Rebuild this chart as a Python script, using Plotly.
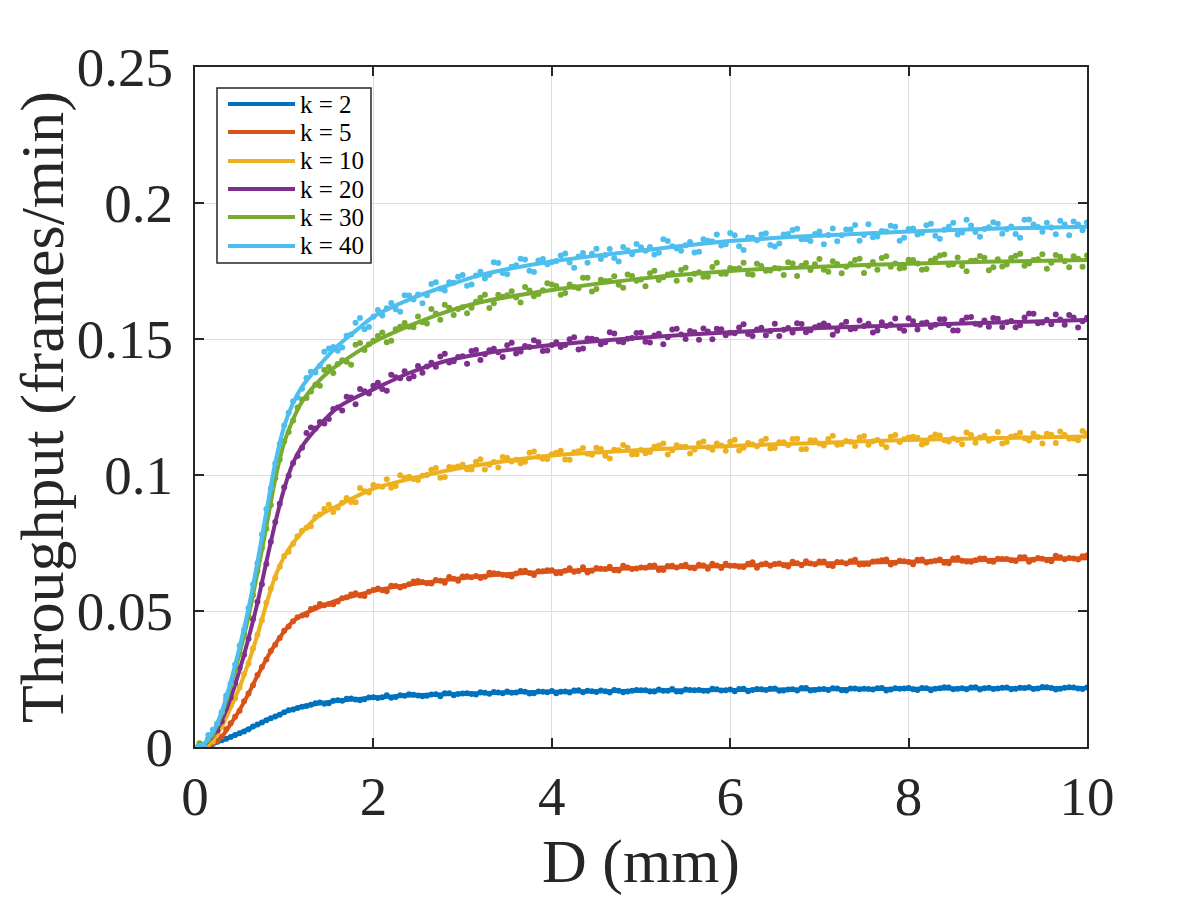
import numpy as np
import plotly.graph_objects as go

# ---------------- data ----------------
labels = ["k = 2", "k = 5", "k = 10", "k = 20", "k = 30", "k = 40"]
colors = ["#0072BD", "#D95319", "#EDB120", "#7E2F8E", "#77AC30", "#4DBEEE"]

# fitted curve sample points (D in mm)
fit_x = [0, 0.1, 0.2, 0.3, 0.4, 0.5, 0.6, 0.7, 0.8, 0.9, 1.0, 1.1, 1.2, 1.4, 1.6,
         1.8, 2.0, 2.4, 2.8, 3.2, 4, 5, 6, 7, 8, 9, 10]
fit_k2 = [0, 0.0004, 0.0012, 0.0024, 0.0037, 0.0051, 0.0066, 0.0082, 0.0098, 0.0113,
          0.0127, 0.0139, 0.0148, 0.0161, 0.0170, 0.0176, 0.0181, 0.0189, 0.0194,
          0.0198, 0.0203, 0.0207, 0.0210, 0.0212, 0.0214, 0.0216, 0.0217]
fit_k5 = [0, 0.0003, 0.0012, 0.0038, 0.0085, 0.0136, 0.0196, 0.0262, 0.0323, 0.0378,
          0.0425, 0.0462, 0.0485, 0.0515, 0.0540, 0.0557, 0.0574, 0.0597, 0.0613,
          0.0628, 0.0645, 0.0658, 0.0666, 0.0675, 0.0681, 0.0688, 0.0694]
fit_k10 = [0, 0.0005, 0.0025, 0.0075, 0.0145, 0.022, 0.031, 0.0412, 0.0525, 0.0628,
           0.0700, 0.0750, 0.0790, 0.0853, 0.0887, 0.0920, 0.0950, 0.0985, 0.1015,
           0.1038, 0.1072, 0.1092, 0.1107, 0.1118, 0.1129, 0.1136, 0.1142]
fit_k20 = [0, 0.0008, 0.004, 0.0098, 0.018, 0.0283, 0.040, 0.053, 0.068, 0.0825,
           0.095, 0.1045, 0.1105, 0.1185, 0.1248, 0.1285, 0.1315, 0.1375, 0.1418,
           0.1445, 0.1478, 0.1505, 0.1525, 0.1540, 0.1551, 0.1561, 0.1570]
fit_k30 = [0, 0.001, 0.005, 0.012, 0.0225, 0.0345, 0.048, 0.064, 0.081, 0.0985,
           0.112, 0.1205, 0.127, 0.135, 0.1405, 0.1448, 0.1488, 0.1548, 0.1598,
           0.1635, 0.1680, 0.1722, 0.1750, 0.1766, 0.1777, 0.1785, 0.1790]
fit_k40 = [0, 0.0012, 0.0055, 0.013, 0.024, 0.0368, 0.051, 0.068, 0.0865, 0.1045,
           0.118, 0.1265, 0.1325, 0.1405, 0.1475, 0.153, 0.1582, 0.1645, 0.1693,
           0.1735, 0.1785, 0.1825, 0.1860, 0.1880, 0.1895, 0.1906, 0.1913]

# measured points at D = 0.1, 0.2, ... 10.0 mm
meas_x = np.round(np.arange(1, 101) * 0.1, 2)
# measured points at D = 0.05, 0.15, ... 9.95 mm
mid_x = np.round(np.arange(0, 100) * 0.1 + 0.05, 2)

meas_k2 = [0.0004, 0.0011, 0.0025, 0.0037, 0.0051, 0.0065, 0.0083, 0.0098, 0.0112, 0.0128,
           0.0138, 0.0148, 0.0155, 0.0164, 0.0161, 0.0172, 0.0177, 0.0175, 0.0176, 0.0183,
           0.0183, 0.0181, 0.0190, 0.0194, 0.0189, 0.0188, 0.0194, 0.0198, 0.0190, 0.0197,
           0.0195, 0.0201, 0.0196, 0.0200, 0.0204, 0.0200, 0.0203, 0.0198, 0.0203, 0.0206,
           0.0203, 0.0200, 0.0209, 0.0207, 0.0202, 0.0205, 0.0210, 0.0201, 0.0207, 0.0209,
           0.0204, 0.0211, 0.0207, 0.0204, 0.0211, 0.0209, 0.0207, 0.0214, 0.0208, 0.0211,
           0.0213, 0.0205, 0.0213, 0.0210, 0.0215, 0.0208, 0.0212, 0.0217, 0.0208, 0.0212,
           0.0210, 0.0215, 0.0208, 0.0215, 0.0214, 0.0211, 0.0217, 0.0211, 0.0214, 0.0217,
           0.0210, 0.0216, 0.0214, 0.0220, 0.0212, 0.0216, 0.0219, 0.0211, 0.0218, 0.0215,
           0.0219, 0.0214, 0.0217, 0.0213, 0.0221, 0.0217, 0.0214, 0.0220, 0.0215, 0.0219]
mid_k2 = [0.0001, 0.0009, 0.0019, 0.0030, 0.0044, 0.0057, 0.0075, 0.0090, 0.0106, 0.0119,
          0.0135, 0.0143, 0.0151, 0.0161, 0.0159, 0.0170, 0.0170, 0.0178, 0.0172, 0.0182,
          0.0180, 0.0190, 0.0184, 0.0188, 0.0192, 0.0187, 0.0193, 0.0187, 0.0198, 0.0195,
          0.0198, 0.0193, 0.0199, 0.0202, 0.0198, 0.0199, 0.0206, 0.0197, 0.0204, 0.0201,
          0.0198, 0.0204, 0.0208, 0.0201, 0.0205, 0.0208, 0.0200, 0.0207, 0.0204, 0.0210,
          0.0209, 0.0204, 0.0207, 0.0213, 0.0204, 0.0210, 0.0210, 0.0207, 0.0212, 0.0209,
          0.0205, 0.0214, 0.0210, 0.0212, 0.0214, 0.0207, 0.0211, 0.0208, 0.0217, 0.0210,
          0.0213, 0.0216, 0.0209, 0.0215, 0.0212, 0.0213, 0.0216, 0.0208, 0.0216, 0.0215,
          0.0212, 0.0217, 0.0209, 0.0216, 0.0219, 0.0214, 0.0212, 0.0220, 0.0216, 0.0213,
          0.0218, 0.0212, 0.0218, 0.0220, 0.0215, 0.0220, 0.0211, 0.0218, 0.0219, 0.0213]
meas_k5 = [0.0001, 0.0013, 0.0038, 0.0087, 0.0133, 0.0197, 0.0265, 0.0322, 0.0376, 0.0427,
           0.0462, 0.0483, 0.0507, 0.0526, 0.0526, 0.0535, 0.0551, 0.0565, 0.0555, 0.0577,
           0.0576, 0.0593, 0.0586, 0.0598, 0.0610, 0.0602, 0.0614, 0.0604, 0.0619, 0.0627,
           0.0624, 0.0621, 0.0641, 0.0637, 0.0631, 0.0638, 0.0648, 0.0632, 0.0646, 0.0650,
           0.0640, 0.0657, 0.0647, 0.0642, 0.0658, 0.0654, 0.0650, 0.0666, 0.0654, 0.0660,
           0.0666, 0.0651, 0.0665, 0.0660, 0.0670, 0.0657, 0.0667, 0.0674, 0.0658, 0.0666,
           0.0663, 0.0674, 0.0659, 0.0675, 0.0673, 0.0668, 0.0681, 0.0668, 0.0675, 0.0682,
           0.0668, 0.0680, 0.0675, 0.0688, 0.0672, 0.0682, 0.0687, 0.0671, 0.0685, 0.0680,
           0.0688, 0.0678, 0.0685, 0.0677, 0.0693, 0.0685, 0.0681, 0.0693, 0.0684, 0.0692,
           0.0691, 0.0684, 0.0698, 0.0688, 0.0692, 0.0683, 0.0698, 0.0695, 0.0689, 0.0704]
mid_k5 = [0.0001, 0.0009, 0.0022, 0.0065, 0.0111, 0.0168, 0.0227, 0.0294, 0.0353, 0.0401,
          0.0443, 0.0477, 0.0486, 0.0512, 0.0521, 0.0525, 0.0547, 0.0561, 0.0557, 0.0571,
          0.0583, 0.0573, 0.0592, 0.0592, 0.0608, 0.0607, 0.0601, 0.0611, 0.0625, 0.0611,
          0.0628, 0.0629, 0.0626, 0.0639, 0.0633, 0.0627, 0.0647, 0.0640, 0.0646, 0.0650,
          0.0639, 0.0648, 0.0644, 0.0661, 0.0648, 0.0655, 0.0663, 0.0649, 0.0660, 0.0656,
          0.0659, 0.0667, 0.0651, 0.0666, 0.0665, 0.0659, 0.0670, 0.0655, 0.0667, 0.0674,
          0.0666, 0.0662, 0.0679, 0.0671, 0.0666, 0.0675, 0.0664, 0.0676, 0.0683, 0.0672,
          0.0682, 0.0665, 0.0679, 0.0683, 0.0671, 0.0673, 0.0683, 0.0689, 0.0677, 0.0683,
          0.0672, 0.0689, 0.0682, 0.0689, 0.0676, 0.0695, 0.0682, 0.0687, 0.0693, 0.0681,
          0.0691, 0.0687, 0.0698, 0.0681, 0.0695, 0.0687, 0.0703, 0.0690, 0.0693, 0.0701]
meas_k10 = [0.0005, 0.0020, 0.0079, 0.0152, 0.0219, 0.0307, 0.0413, 0.0530, 0.0621, 0.0702,
            0.0747, 0.0795, 0.0812, 0.0855, 0.0891, 0.0880, 0.0915, 0.0900, 0.0940, 0.0963,
            0.0957, 0.0953, 0.0999, 0.0994, 0.0982, 0.1000, 0.1026, 0.0993, 0.1028, 0.1038,
            0.1020, 0.1058, 0.1038, 0.1028, 0.1063, 0.1056, 0.1049, 0.1086, 0.1060, 0.1076,
            0.1089, 0.1056, 0.1087, 0.1078, 0.1100, 0.1071, 0.1093, 0.1110, 0.1075, 0.1092,
            0.1085, 0.1108, 0.1075, 0.1109, 0.1104, 0.1094, 0.1123, 0.1093, 0.1108, 0.1122,
            0.1090, 0.1118, 0.1106, 0.1133, 0.1099, 0.1120, 0.1132, 0.1095, 0.1128, 0.1116,
            0.1132, 0.1111, 0.1125, 0.1107, 0.1143, 0.1124, 0.1114, 0.1141, 0.1121, 0.1138,
            0.1137, 0.1119, 0.1149, 0.1128, 0.1134, 0.1113, 0.1147, 0.1138, 0.1126, 0.1158,
            0.1121, 0.1144, 0.1135, 0.1153, 0.1116, 0.1148, 0.1160, 0.1133, 0.1128, 0.1153]
mid_k10 = [0.0006, 0.0011, 0.0050, 0.0117, 0.0178, 0.0268, 0.0362, 0.0466, 0.0582, 0.0663,
           0.0718, 0.0775, 0.0806, 0.0846, 0.0875, 0.0864, 0.0898, 0.0901, 0.0952, 0.0936,
           0.0959, 0.0984, 0.0960, 0.0990, 0.0985, 0.0997, 0.1019, 0.0990, 0.1029, 0.1031,
           0.1021, 0.1049, 0.1020, 0.1048, 0.1066, 0.1050, 0.1043, 0.1082, 0.1067, 0.1059,
           0.1082, 0.1057, 0.1084, 0.1099, 0.1074, 0.1096, 0.1061, 0.1091, 0.1100, 0.1076,
           0.1080, 0.1104, 0.1116, 0.1091, 0.1103, 0.1079, 0.1117, 0.1102, 0.1116, 0.1089,
           0.1130, 0.1100, 0.1112, 0.1124, 0.1097, 0.1120, 0.1110, 0.1133, 0.1096, 0.1127,
           0.1108, 0.1144, 0.1114, 0.1122, 0.1138, 0.1111, 0.1129, 0.1102, 0.1147, 0.1131,
           0.1141, 0.1112, 0.1138, 0.1145, 0.1123, 0.1129, 0.1156, 0.1119, 0.1144, 0.1134,
           0.1116, 0.1141, 0.1155, 0.1127, 0.1140, 0.1152, 0.1118, 0.1147, 0.1134, 0.1162]
meas_k20 = [0.0005, 0.0045, 0.0094, 0.0181, 0.0290, 0.0398, 0.0534, 0.0673, 0.0827, 0.0955,
            0.1044, 0.1100, 0.1175, 0.1195, 0.1206, 0.1248, 0.1288, 0.1260, 0.1308, 0.1328,
            0.1316, 0.1369, 0.1356, 0.1355, 0.1401, 0.1399, 0.1398, 0.1446, 0.1418, 0.1437,
            0.1456, 0.1423, 0.1459, 0.1451, 0.1477, 0.1447, 0.1474, 0.1495, 0.1456, 0.1478,
            0.1471, 0.1499, 0.1461, 0.1502, 0.1497, 0.1488, 0.1520, 0.1488, 0.1504, 0.1523,
            0.1487, 0.1519, 0.1506, 0.1538, 0.1500, 0.1525, 0.1539, 0.1499, 0.1536, 0.1523,
            0.1542, 0.1518, 0.1535, 0.1514, 0.1556, 0.1534, 0.1524, 0.1555, 0.1532, 0.1550,
            0.1549, 0.1530, 0.1563, 0.1539, 0.1548, 0.1524, 0.1562, 0.1553, 0.1540, 0.1576,
            0.1535, 0.1561, 0.1552, 0.1573, 0.1531, 0.1567, 0.1581, 0.1552, 0.1545, 0.1574,
            0.1562, 0.1543, 0.1579, 0.1593, 0.1561, 0.1554, 0.1572, 0.1588, 0.1542, 0.1578]
mid_k20 = [0.0004, 0.0029, 0.0061, 0.0143, 0.0234, 0.0339, 0.0470, 0.0598, 0.0755, 0.0894,
           0.0997, 0.1070, 0.1154, 0.1171, 0.1189, 0.1243, 0.1237, 0.1285, 0.1316, 0.1300,
           0.1339, 0.1310, 0.1359, 0.1381, 0.1363, 0.1376, 0.1413, 0.1436, 0.1414, 0.1434,
           0.1409, 0.1460, 0.1444, 0.1464, 0.1434, 0.1486, 0.1454, 0.1471, 0.1488, 0.1458,
           0.1488, 0.1478, 0.1506, 0.1465, 0.1501, 0.1481, 0.1525, 0.1491, 0.1501, 0.1522,
           0.1490, 0.1513, 0.1481, 0.1535, 0.1517, 0.1529, 0.1497, 0.1528, 0.1538, 0.1514,
           0.1521, 0.1554, 0.1511, 0.1541, 0.1529, 0.1511, 0.1540, 0.1558, 0.1525, 0.1543,
           0.1557, 0.1516, 0.1551, 0.1536, 0.1568, 0.1556, 0.1531, 0.1548, 0.1575, 0.1530,
           0.1565, 0.1558, 0.1544, 0.1573, 0.1551, 0.1531, 0.1579, 0.1556, 0.1568, 0.1577,
           0.1544, 0.1566, 0.1551, 0.1594, 0.1558, 0.1571, 0.1590, 0.1552, 0.1579, 0.1565]
meas_k30 = [0.0009, 0.0044, 0.0128, 0.0228, 0.0341, 0.0480, 0.0647, 0.0802, 0.0988, 0.1124,
            0.1200, 0.1278, 0.1307, 0.1328, 0.1397, 0.1408, 0.1416, 0.1479, 0.1460, 0.1494,
            0.1524, 0.1494, 0.1545, 0.1545, 0.1583, 0.1557, 0.1594, 0.1626, 0.1588, 0.1617,
            0.1615, 0.1652, 0.1614, 0.1663, 0.1661, 0.1653, 0.1691, 0.1657, 0.1679, 0.1700,
            0.1663, 0.1700, 0.1687, 0.1725, 0.1684, 0.1713, 0.1731, 0.1688, 0.1732, 0.1719,
            0.1742, 0.1717, 0.1737, 0.1714, 0.1762, 0.1740, 0.1729, 0.1765, 0.1740, 0.1761,
            0.1760, 0.1739, 0.1777, 0.1751, 0.1761, 0.1735, 0.1778, 0.1769, 0.1754, 0.1794,
            0.1747, 0.1776, 0.1766, 0.1790, 0.1743, 0.1783, 0.1798, 0.1766, 0.1759, 0.1791,
            0.1778, 0.1757, 0.1796, 0.1811, 0.1775, 0.1768, 0.1788, 0.1805, 0.1753, 0.1793,
            0.1774, 0.1806, 0.1769, 0.1790, 0.1812, 0.1780, 0.1802, 0.1764, 0.1795, 0.1807]
mid_k30 = [0.0014, 0.0026, 0.0086, 0.0178, 0.0279, 0.0416, 0.0558, 0.0732, 0.0890, 0.1057,
           0.1158, 0.1248, 0.1283, 0.1332, 0.1386, 0.1375, 0.1422, 0.1405, 0.1485, 0.1481,
           0.1511, 0.1488, 0.1536, 0.1559, 0.1543, 0.1562, 0.1610, 0.1571, 0.1615, 0.1610,
           0.1595, 0.1637, 0.1663, 0.1631, 0.1655, 0.1676, 0.1634, 0.1678, 0.1665, 0.1705,
           0.1695, 0.1669, 0.1691, 0.1725, 0.1675, 0.1718, 0.1713, 0.1699, 0.1737, 0.1714,
           0.1694, 0.1751, 0.1727, 0.1742, 0.1754, 0.1718, 0.1745, 0.1729, 0.1780, 0.1740,
           0.1757, 0.1780, 0.1736, 0.1768, 0.1752, 0.1759, 0.1782, 0.1732, 0.1779, 0.1775,
           0.1755, 0.1786, 0.1742, 0.1776, 0.1795, 0.1769, 0.1755, 0.1804, 0.1778, 0.1762,
           0.1790, 0.1755, 0.1788, 0.1807, 0.1772, 0.1800, 0.1749, 0.1789, 0.1799, 0.1764,
           0.1767, 0.1798, 0.1813, 0.1778, 0.1793, 0.1758, 0.1809, 0.1786, 0.1804, 0.1766]
meas_k40 = [0.0007, 0.0063, 0.0128, 0.0233, 0.0373, 0.0511, 0.0676, 0.0875, 0.1042, 0.1182,
            0.1271, 0.1317, 0.1380, 0.1402, 0.1465, 0.1457, 0.1512, 0.1560, 0.1536, 0.1582,
            0.1586, 0.1632, 0.1600, 0.1660, 0.1664, 0.1661, 0.1709, 0.1678, 0.1707, 0.1735,
            0.1700, 0.1747, 0.1736, 0.1779, 0.1738, 0.1771, 0.1792, 0.1746, 0.1794, 0.1782,
            0.1807, 0.1781, 0.1803, 0.1780, 0.1832, 0.1809, 0.1798, 0.1838, 0.1812, 0.1837,
            0.1838, 0.1817, 0.1860, 0.1833, 0.1845, 0.1818, 0.1867, 0.1858, 0.1844, 0.1890,
            0.1841, 0.1873, 0.1863, 0.1889, 0.1840, 0.1884, 0.1901, 0.1867, 0.1860, 0.1895,
            0.1882, 0.1859, 0.1903, 0.1919, 0.1882, 0.1874, 0.1897, 0.1916, 0.1861, 0.1904,
            0.1884, 0.1918, 0.1880, 0.1902, 0.1927, 0.1892, 0.1917, 0.1876, 0.1911, 0.1924,
            0.1904, 0.1886, 0.1938, 0.1921, 0.1894, 0.1910, 0.1935, 0.1881, 0.1921, 0.1928]
mid_k40 = [0.0004, 0.0044, 0.0086, 0.0189, 0.0303, 0.0430, 0.0597, 0.0781, 0.0950, 0.1114,
           0.1229, 0.1285, 0.1357, 0.1377, 0.1453, 0.1471, 0.1469, 0.1517, 0.1577, 0.1544,
           0.1607, 0.1613, 0.1609, 0.1661, 0.1645, 0.1631, 0.1702, 0.1685, 0.1709, 0.1729,
           0.1696, 0.1733, 0.1722, 0.1782, 0.1743, 0.1766, 0.1795, 0.1751, 0.1789, 0.1775,
           0.1787, 0.1814, 0.1762, 0.1816, 0.1813, 0.1794, 0.1831, 0.1785, 0.1826, 0.1849,
           0.1824, 0.1811, 0.1867, 0.1841, 0.1824, 0.1857, 0.1821, 0.1861, 0.1884, 0.1848,
           0.1881, 0.1827, 0.1872, 0.1884, 0.1846, 0.1851, 0.1886, 0.1905, 0.1867, 0.1886,
           0.1848, 0.1906, 0.1881, 0.1903, 0.1861, 0.1922, 0.1877, 0.1895, 0.1913, 0.1872,
           0.1906, 0.1890, 0.1924, 0.1869, 0.1913, 0.1884, 0.1938, 0.1893, 0.1904, 0.1929,
           0.1887, 0.1914, 0.1872, 0.1939, 0.1912, 0.1927, 0.1885, 0.1921, 0.1932, 0.1900]

x_ticks = [0, 2, 4, 6, 8, 10]
y_ticks = [0, 0.05, 0.1, 0.15, 0.2, 0.25]
y_ticktext = ["0", "0.05", "0.1", "0.15", "0.2", "0.25"]

fits = [fit_k2, fit_k5, fit_k10, fit_k20, fit_k30, fit_k40]
meas = [meas_k2, meas_k5, meas_k10, meas_k20, meas_k30, meas_k40]
mids = [mid_k2, mid_k5, mid_k10, mid_k20, mid_k30, mid_k40]

# ---------------- figure ----------------
FONT = "Liberation Serif, Times New Roman, serif"
AX = "#262626"

fig = go.Figure()
for lab, col, f, m, h in zip(labels, colors, fits, meas, mids):
    px_all = list(mid_x) + list(meas_x)
    py_all = list(h) + list(m)
    fig.add_trace(go.Scatter(x=px_all, y=py_all, mode="markers", showlegend=False,
                             marker=dict(color=col, size=6, line=dict(width=0)),
                             hoverinfo="skip"))
    fig.add_trace(go.Scatter(x=fit_x, y=f, mode="lines", name=lab, showlegend=False,
                             line=dict(color=col, width=4, shape="spline", smoothing=0.8)))

# page body has an 8px offset; target plot box on screen: x 195..1087, y 67..747
OFF = 8
W, H = 1200, 900
L, R, T, B = 195 - OFF, W - 1087 + OFF, 67 - OFF, H - 747 + OFF
pw, ph = W - L - R, H - T - B

def px2paper(sx, sy):
    return (sx - OFF - L) / pw, (H - B - (sy - OFF)) / ph

fig.update_layout(
    width=W, height=H,
    margin=dict(l=L, r=R, t=T, b=B, autoexpand=False),
    paper_bgcolor="white", plot_bgcolor="white",
    font=dict(family=FONT, color=AX),
    showlegend=False,
)
fig.update_xaxes(
    range=[0, 10], tickvals=x_ticks, ticktext=[str(v) for v in x_ticks],
    showline=True, linecolor=AX, linewidth=2, mirror="ticks",
    ticks="inside", ticklen=9, tickwidth=1.5, tickcolor=AX,
    showgrid=True, gridcolor="#dedede", gridwidth=1, zeroline=False,
    tickfont=dict(family=FONT, size=55, color=AX),
    title=dict(text="D (mm)", font=dict(family=FONT, size=62, color=AX), standoff=4),
)
fig.update_yaxes(
    range=[0, 0.25], tickvals=y_ticks, ticktext=y_ticktext,
    showline=True, linecolor=AX, linewidth=2, mirror="ticks",
    ticks="inside", ticklen=9, tickwidth=1.5, tickcolor=AX,
    showgrid=True, gridcolor="#dedede", gridwidth=1, zeroline=False,
    tickfont=dict(family=FONT, size=55, color=AX), ticklabelstandoff=9,
    title=dict(text="Throughput (frames/min)", font=dict(family=FONT, size=62, color=AX), standoff=2),
)

# legend drawn in MATLAB style
bx0, by1 = px2paper(217, 88)
bx1, by0 = px2paper(371, 263)
fig.add_shape(type="rect", xref="paper", yref="paper", x0=bx0, x1=bx1, y0=by0, y1=by1,
              line=dict(color=AX, width=1.5), fillcolor="white", layer="above")
row_py = [104, 132, 161, 189, 217, 246]
for lab, col, py in zip(labels, colors, row_py):
    lx0, ly = px2paper(228, py)
    lx1, _ = px2paper(295, py)
    tx, _ = px2paper(298, py)
    fig.add_shape(type="line", xref="paper", yref="paper", x0=lx0, x1=lx1, y0=ly, y1=ly,
                  line=dict(color=col, width=4), layer="above")
    fig.add_annotation(xref="paper", yref="paper", x=tx, y=ly, text=lab, showarrow=False,
                       xanchor="left", yanchor="middle",
                       font=dict(family=FONT, size=25, color="black"))

fig.write_html("out.html")
